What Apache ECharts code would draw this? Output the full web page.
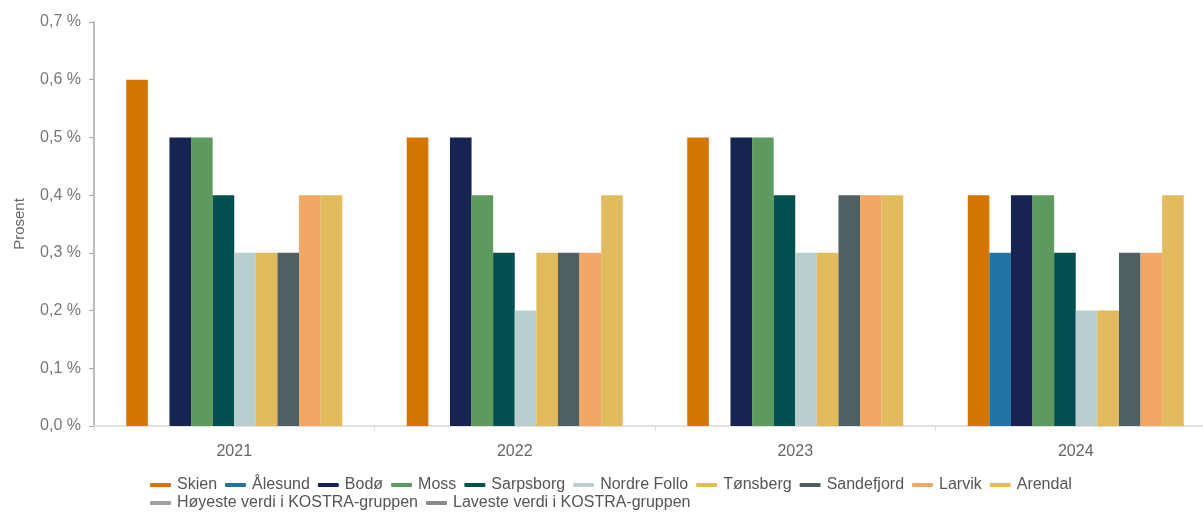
<!DOCTYPE html>
<html>
<head>
<meta charset="utf-8">
<script src="https://cdn.jsdelivr.net/npm/echarts@6/dist/echarts.min.js"></script>
<style>html,body{margin:0;padding:0;background:#fff;}#c{width:1203px;height:512px;}</style>
</head>
<body>
<div id="c"></div>
<script>
const categories = ['2021', '2022', '2023', '2024'];
const seriesNames = ['Skien', 'Ålesund', 'Bodø', 'Moss', 'Sarpsborg', 'Nordre Follo', 'Tønsberg', 'Sandefjord', 'Larvik', 'Arendal'];
const skien       = [0.6, 0.5, 0.5, 0.4];
const alesund     = [null, null, null, 0.3];
const bodo        = [0.5, 0.5, 0.5, 0.4];
const moss        = [0.5, 0.4, 0.5, 0.4];
const sarpsborg   = [0.4, 0.3, 0.4, 0.3];
const nordreFollo = [0.3, 0.2, 0.3, 0.2];
const tonsberg    = [0.3, 0.3, 0.3, 0.2];
const sandefjord  = [0.3, 0.3, 0.4, 0.3];
const larvik      = [0.4, 0.3, 0.4, 0.3];
const arendal     = [0.4, 0.4, 0.4, 0.4];
const lineNames = ['Høyeste verdi i KOSTRA-gruppen', 'Laveste verdi i KOSTRA-gruppen'];
const hoyeste = [null, null, null, null];
const laveste = [null, null, null, null];

const barValues = [skien, alesund, bodo, moss, sarpsborg, nordreFollo, tonsberg, sandefjord, larvik, arendal];
const barColors = ['#d47500', '#2473a6', '#172452', '#5e9a5d', '#014f4f', '#b9cfcf', '#e2ba5c', '#4f5f63', '#f0a864', '#e2bb5e'];
const lineColors = ['#a0a0a0', '#8a8a8a'];

const FONT = 'Liberation Sans, Arial, sans-serif';

const series = seriesNames.map((n, i) => ({
  name: n,
  type: 'bar',
  data: barValues[i],
  barGap: '0%',
  barCategoryGap: '23%',
  itemStyle: { color: barColors[i] }
}));
series.push(
  { name: lineNames[0], type: 'line', data: hoyeste, itemStyle: { color: lineColors[0] }, lineStyle: { color: lineColors[0] }, showSymbol: false },
  { name: lineNames[1], type: 'line', data: laveste, itemStyle: { color: lineColors[1] }, lineStyle: { color: lineColors[1] }, showSymbol: false }
);

const chart = echarts.init(document.getElementById('c'));
const legendCommon = {
  icon: 'roundRect',
  itemWidth: 21,
  itemHeight: 4,
  itemGap: 8,
  left: 150,
  orient: 'horizontal',
  textStyle: { fontFamily: FONT, fontSize: 16, color: '#555', padding: [0, 0, 0, 1] },
  padding: 0
};
chart.setOption({
  animation: false,
  backgroundColor: '#fff',
  grid: { left: 94, width: 1122, top: 22, bottom: 86, containLabel: false, outerBoundsMode: 'none' },
  legend: [
    Object.assign({}, legendCommon, { data: seriesNames, top: 477 }),
    Object.assign({}, legendCommon, { data: lineNames, top: 495 })
  ],
  xAxis: {
    type: 'category',
    data: categories,
    axisLine: { lineStyle: { color: '#d9d9d9', width: 1.5 } },
    axisTick: { show: true, length: 5, lineStyle: { color: '#d9d9d9' } },
    axisLabel: { fontFamily: FONT, fontSize: 16, color: '#666', margin: 18 }
  },
  yAxis: {
    type: 'value',
    min: 0,
    max: 0.7,
    interval: 0.1,
    name: 'Prosent',
    nameLocation: 'middle',
    nameGap: 67,
    nameTextStyle: { fontFamily: FONT, fontSize: 15, color: '#666' },
    axisLine: { show: true, lineStyle: { color: '#a6a6a6', width: 1.5 } },
    axisTick: { show: true, length: 5, lineStyle: { color: '#a6a6a6' } },
    splitLine: { show: false },
    axisLabel: {
      fontFamily: FONT, fontSize: 16, color: '#777', margin: 13,
      formatter: v => v.toFixed(1).replace('.', ',') + ' %'
    }
  },
  series: series
});
</script>
</body>
</html>
